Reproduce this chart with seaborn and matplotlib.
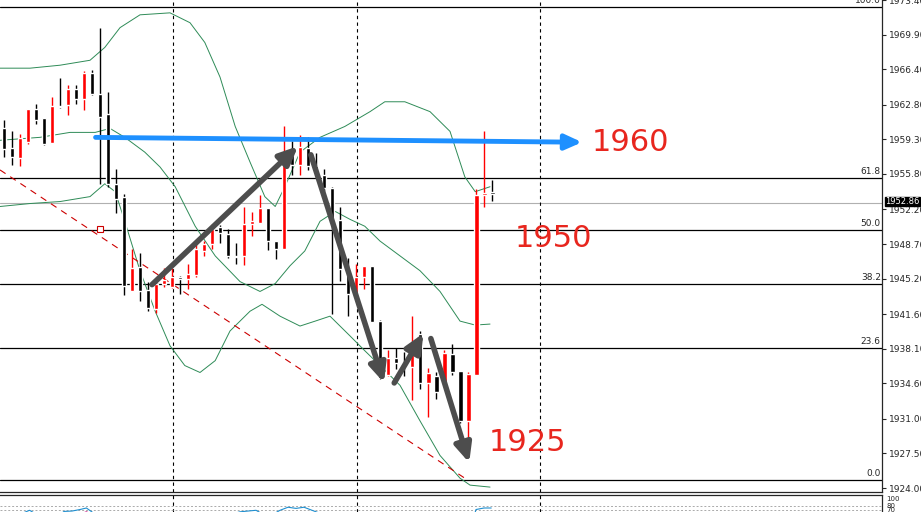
import matplotlib
matplotlib.use("Agg")
import matplotlib.pyplot as plt
import seaborn as sns
import numpy as np
import pandas as pd

# --- dati candele (prezzi) ---
opens = [1960.4, 1958.4, 1957.4, 1959.0, 1962.4, 1961.5, 1958.9, 1962.7, 1962.8, 1964.4, 1963.4, 1966.0,
         1963.9, 1961.9, 1954.8, 1953.5, 1943.9, 1946.4, 1944.0, 1942.1, 1944.7, 1944.4, 1945.4, 1945.2,
         1945.6, 1948.0, 1948.7, 1950.4, 1949.7, 1947.5, 1947.5, 1950.7, 1950.8, 1952.3, 1949.0, 1948.2,
         1957.7, 1956.7, 1958.4, 1956.6, 1955.7, 1954.4, 1951.1, 1946.3, 1943.6, 1945.4, 1946.5, 1940.9,
         1935.4, 1937.2, 1936.7, 1936.3, 1939.6, 1934.6, 1935.3, 1934.6, 1937.6, 1935.8, 1930.8, 1935.4,
         1953.7, 1953.9]
closes = [1958.3, 1957.5, 1959.4, 1962.4, 1961.3, 1958.8, 1962.7, 1962.6, 1964.4, 1963.4, 1966.0, 1963.9,
          1961.6, 1954.8, 1953.3, 1944.5, 1946.3, 1943.9, 1942.2, 1944.7, 1945.1, 1945.4, 1945.2, 1945.7,
          1948.2, 1948.7, 1950.2, 1949.8, 1947.5, 1947.4, 1950.7, 1951.0, 1952.3, 1949.0, 1948.2, 1957.5,
          1956.7, 1958.5, 1956.6, 1955.7, 1954.4, 1951.0, 1946.2, 1943.6, 1945.4, 1946.5, 1940.8, 1935.1,
          1937.2, 1936.7, 1936.6, 1937.8, 1934.6, 1935.6, 1933.7, 1937.7, 1935.7, 1930.8, 1935.5, 1953.7,
          1953.9, 1953.8]
highs = [1961.3, 1960.1, 1959.8, 1962.4, 1962.9, 1961.5, 1963.6, 1965.5, 1964.8, 1964.8, 1966.2, 1966.3,
         1970.6, 1964.1, 1956.3, 1953.8, 1948.2, 1947.8, 1944.9, 1945.1, 1946.3, 1946.3, 1945.5, 1946.7,
         1948.7, 1949.0, 1950.7, 1950.6, 1950.2, 1948.8, 1952.4, 1951.9, 1953.7, 1952.3, 1949.0, 1960.6,
         1959.1, 1959.7, 1959.5, 1957.9, 1956.3, 1954.5, 1952.4, 1947.3, 1946.7, 1946.5, 1946.5, 1941.0,
         1938.0, 1938.2, 1937.8, 1941.4, 1939.9, 1936.2, 1935.7, 1938.0, 1938.6, 1935.8, 1935.7, 1954.3,
         1960.1, 1955.2]
lows = [1957.5, 1956.7, 1956.6, 1958.8, 1960.8, 1958.7, 1958.9, 1962.5, 1961.8, 1962.9, 1962.3, 1963.8,
        1954.8, 1954.5, 1951.8, 1943.5, 1943.9, 1942.9, 1941.9, 1941.7, 1944.4, 1944.3, 1943.6, 1944.1,
        1945.4, 1947.5, 1948.2, 1948.8, 1947.3, 1946.7, 1946.6, 1949.5, 1950.8, 1948.1, 1947.2, 1948.2,
        1955.7, 1955.7, 1956.2, 1955.7, 1954.1, 1941.6, 1945.0, 1941.4, 1943.6, 1944.2, 1940.8, 1935.0,
        1935.3, 1936.1, 1935.3, 1932.9, 1934.0, 1931.2, 1933.0, 1934.6, 1935.4, 1930.6, 1927.5, 1935.4,
        1952.4, 1953.1]

# --- bande di Bollinger (indice candela, prezzo) ---
upper_idx = [-0.5, 3.25, 7, 10.75, 12.6, 14.5, 17, 20.75, 23.25, 25.1, 27, 28.9, 30.75, 32.6, 33.9, 35.1,
             37, 39.5, 42.6, 45.75, 47.6, 50.1, 53.25, 55.75, 57.6, 58.9, 60.75]
upper_val = [1966.5, 1966.5, 1966.8, 1967.3, 1968.6, 1970.6, 1971.9, 1972.1, 1971.1, 1969.1, 1965.6, 1960.6,
             1957.0, 1953.5, 1952.5, 1954.5, 1958.0, 1959.5, 1960.6, 1962.1, 1963.1, 1963.1, 1962.1, 1960.1,
             1955.5, 1954.0, 1954.5]
mid_idx = [-0.5, 4.5, 8.25, 11.4, 13.25, 15.1, 17.6, 19.5, 21.4, 23.9, 26.4, 29.5, 32, 33.9, 35.75, 37.6,
           39.5, 41.4, 43.25, 45.1, 47, 49.5, 52, 54.5, 57, 58.9, 60.75]
mid_val = [1959.2, 1959.5, 1960.0, 1960.0, 1960.4, 1959.5, 1958.0, 1956.5, 1954.5, 1950.5, 1947.5, 1944.9,
           1943.9, 1944.7, 1946.5, 1948.0, 1951.0, 1952.0, 1951.2, 1950.5, 1949.0, 1947.5, 1946.0, 1943.9,
           1940.9, 1940.5, 1940.6]
lower_idx = [-0.5, 3.25, 7, 10.75, 12.6, 13.9, 15.1, 17, 18.9, 20.75, 22.6, 24.5, 26.4, 28.25, 30.75, 32.25,
             34.5, 37, 38.9, 40.75, 43.25, 45.1, 47, 49.5, 52, 54.5, 57, 58.25, 60.75]
lower_val = [1952.5, 1952.8, 1953.0, 1953.5, 1954.8, 1954.0, 1951.0, 1946.0, 1941.9, 1938.4, 1936.4, 1935.7,
             1936.9, 1939.9, 1941.9, 1942.6, 1941.4, 1940.4, 1940.9, 1941.4, 1939.4, 1937.9, 1936.4, 1934.4,
             1930.8, 1927.3, 1925.0, 1924.3, 1924.1]

# --- livelli di Fibonacci ---
fib_labels = ["0.0", "23.6", "38.2", "50.0", "61.8", "100.0"]
fib_levels = [1924.8, 1938.2, 1944.7, 1950.1, 1955.4, 1972.7]
last_price = 1952.86
price_ticks = [1924.00, 1927.50, 1931.00, 1934.60, 1938.10, 1941.60, 1945.20, 1948.70, 1952.20,
               1955.80, 1959.30, 1962.80, 1966.40, 1969.90, 1973.40]
separators = [21.125, 44.125, 67.0]

# trendline e frecce
trend_idx = [-0.5, 57.6]
trend_val = [1956.2, 1925.0]
blue_arrow = [(11.1, 1959.5), (72.6, 1959.0)]
gray_arrows = [((18.25, 1944.4), (37.0, 1958.8)),
               ((38.25, 1958.0), (47.6, 1934.4)),
               ((48.6, 1934.4), (52.6, 1939.9)),
               ((53.25, 1939.4), (58.25, 1926.3))]
notes = [("1960", 73.5, 1959.0), ("1950", 63.8, 1949.3), ("1925", 60.6, 1928.6)]

# --- stocastico (sotto-finestra) ---
stoch_idx = [1.5, 2.5, 3.2, 4, 6.5, 7.5, 8.5, 9.5, 10.3, 11.5, 25.5, 26.5, 28.5, 29.5, 31.5, 33, 34.5,
             35.5, 36.5, 37.5, 38.5, 39.5, 58.7, 59, 60, 60.9]
blue_vals = [50, 62, 68, 58, 48, 65, 66, 70, 74, 56, 55, 60, 58, 64, 68, 50, 68, 76, 73, 76, 68, 60, 50, 70, 74, 74]
mag_vals = [40, 48, 55, 50, 40, 57, 60, 58, 64, 52, 48, 50, 50, 52, 56, 45, 56, 62, 60, 62, 58, 54, 40, 62, 62, 62]

sns.set_style("white")
plt.rcParams['font.family'] = ['DejaVu Sans']

fig = plt.figure(figsize=(9.21, 5.12), dpi=100)
ax = fig.add_axes([0, 0.039, 0.9577, 0.961])
sub = fig.add_axes([0, 0, 0.9577, 0.033])

xmax = 109.75
ax.set_xlim(-0.5, xmax)
ax.set_ylim(1923.6, 1973.14)

# livelli orizzontali
for lab, lv in zip(fib_labels, fib_levels):
    ax.axhline(lv, color='black', lw=0.9, zorder=1)
    ax.text(xmax - 0.15, lv + 0.2, lab, ha='right', va='bottom', fontsize=6.5)
ax.axhline(last_price, color='#b0b0b0', lw=0.8, zorder=1)
for s in separators:
    ax.axvline(s, color='black', lw=0.8, ls=(0, (3, 3)), zorder=1)
    sub.axvline(s, color='black', lw=0.8, ls=(0, (3, 3)))

# bande
for xi, yi in [(upper_idx, upper_val), (mid_idx, mid_val), (lower_idx, lower_val)]:
    sns.lineplot(x=xi, y=yi, ax=ax, color='#2e8b57', lw=0.7, sort=False, estimator=None, zorder=2)

# trendline rossa tratteggiata
ax.plot(trend_idx, trend_val, color='#cc0000', lw=0.8, ls=(0, (6, 5)), zorder=2)
ax.plot([12], [1950.2], marker='s', ms=4, mfc='white', mec='#cc0000', mew=0.8, zorder=3)

# candele
idx = np.arange(len(opens))
df = pd.DataFrame({'o': opens, 'c': closes, 'h': highs, 'l': lows}, index=idx)
colors = np.where(df['c'] >= df['o'], '#ff0000', '#000000')
ax.vlines(idx, df['l'], df['h'], colors=colors, lw=1, zorder=3)
bottoms = np.minimum(df['o'], df['c'])
heights = np.maximum(np.abs(df['c'] - df['o']), 0.12)
ax.bar(idx, heights, bottom=bottoms, width=0.62, color=colors, zorder=4)

# frecce
(x0, y0), (x1, y1) = blue_arrow
ax.annotate('', xy=(x1, y1), xytext=(x0, y0), zorder=5,
            arrowprops=dict(arrowstyle='-|>,head_length=1.0,head_width=0.45', color='#1e90ff', lw=3.5))
for (a, b) in gray_arrows:
    ax.annotate('', xy=b, xytext=a, zorder=5,
                arrowprops=dict(arrowstyle='-|>,head_length=1.1,head_width=0.5', color='#4d4d4d', lw=4))

for txt, xi, yi in notes:
    ax.text(xi, yi, txt, color='#e8261e', fontsize=22, ha='left', va='center', zorder=6)

# asse dei prezzi a destra
ax.yaxis.tick_right()
ax.set_yticks(price_ticks)
ax.set_yticklabels([f"{t:.2f}" for t in price_ticks], fontsize=6.5)
ax.tick_params(axis='y', length=3, pad=2, direction='out', right=True)
ax.set_xticks([])
for sp in ['top', 'left']:
    ax.spines[sp].set_visible(False)
ax.spines['right'].set_linewidth(0.9)
ax.spines['bottom'].set_linewidth(0.9)
ax.text(1.004, (last_price - 1923.6) / (1973.14 - 1923.6), f"{last_price:.2f}", transform=ax.transAxes,
        fontsize=6, color='white', va='center', ha='left',
        bbox=dict(boxstyle='square,pad=0.05', fc='black', ec='black'), zorder=7)

# sotto-finestra
sub.set_xlim(-0.5, xmax)
sub.set_ylim(63.5, 107.8)
for lv in [80, 70]:
    sub.axhline(lv, color='#aaaaaa', lw=0.7, ls=(0, (2, 2)))
sns.lineplot(x=stoch_idx, y=blue_vals, ax=sub, color='#1f8fd0', lw=0.8, sort=False, estimator=None)
sns.lineplot(x=stoch_idx, y=mag_vals, ax=sub, color='#d0208a', lw=0.8, sort=False, estimator=None)
sub.yaxis.tick_right()
sub.set_yticks([100, 80, 70])
sub.set_yticklabels(['100', '80', '70'], fontsize=5)
sub.tick_params(axis='y', length=0, pad=3)
sub.set_xticks([])
for sp in ['bottom', 'left']:
    sub.spines[sp].set_visible(False)
sub.spines['top'].set_linewidth(0.9)
sub.spines['right'].set_linewidth(0.9)

fig.savefig("out.png", dpi=100)
